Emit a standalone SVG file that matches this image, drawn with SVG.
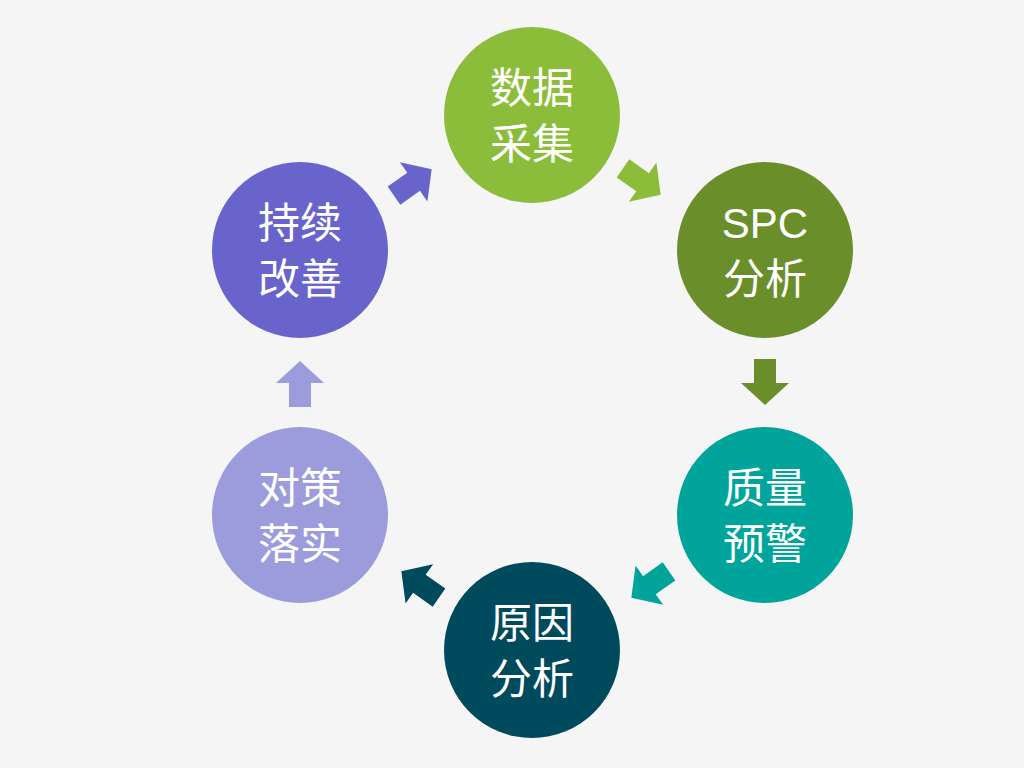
<svg xmlns="http://www.w3.org/2000/svg" width="1024" height="768" viewBox="0 0 1024 768">
<style>
text{font-family:"Liberation Sans","Noto Sans CJK SC",sans-serif;font-size:42px;fill:#fff;text-anchor:middle}
</style>
<defs>
<path id="arr" d="M-22,-11 L2,-11 L2,-24 L24,0 L2,24 L2,11 L-22,11 Z"/>
</defs>
<rect width="1024" height="768" fill="#F5F5F5"/>
<g id="connectors">
<use href="#arr" fill="#8BBD3A" transform="translate(641,181) rotate(35)"/>
<use href="#arr" fill="#6A8E2A" transform="translate(765,381) rotate(90)"/>
<use href="#arr" fill="#00A49A" transform="translate(651,584) rotate(145)"/>
<use href="#arr" fill="#004A5E" transform="translate(421,585) rotate(215)"/>
<use href="#arr" fill="#9C9CDC" transform="translate(300,385) rotate(270)"/>
<use href="#arr" fill="#6864CC" transform="translate(412,183) rotate(325)"/>
</g>
<g id="n1"><circle cx="532" cy="115" r="88" fill="#8BBD3A"/><text x="532" y="103">数据</text><text x="532" y="159">采集</text></g>
<g id="n2"><circle cx="765" cy="250" r="88" fill="#6A8E2A"/><text x="765" y="238">SPC</text><text x="765" y="294">分析</text></g>
<g id="n3"><circle cx="765" cy="515" r="88" fill="#00A49A"/><text x="765" y="503">质量</text><text x="765" y="559">预警</text></g>
<g id="n4"><circle cx="532" cy="650" r="88" fill="#004A5E"/><text x="532" y="638">原因</text><text x="532" y="694">分析</text></g>
<g id="n5"><circle cx="300" cy="515" r="88" fill="#9C9CDC"/><text x="300" y="503">对策</text><text x="300" y="559">落实</text></g>
<g id="n6"><circle cx="300" cy="250" r="88" fill="#6864CC"/><text x="300" y="238">持续</text><text x="300" y="294">改善</text></g>
</svg>
